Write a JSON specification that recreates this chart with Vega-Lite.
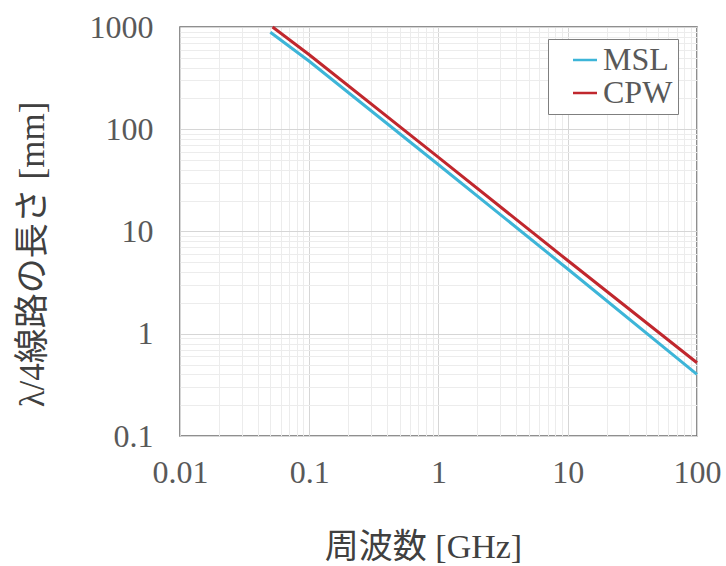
{
  "$schema": "https://vega.github.io/schema/vega-lite/v6.json",
  "width": 517,
  "height": 409,
  "autosize": "none",
  "padding": {"left": 180, "top": 27, "right": 29, "bottom": 130},
  "background": "white",
  "config": {
    "view": {"stroke": "#6b6b6b", "strokeWidth": 1.5},
    "font": "Liberation Serif"
  },
  "data": {
    "values": [
      {"freq": 0.05, "length": 890, "line": "MSL"},
      {"freq": 0.1, "length": 462, "line": "MSL"},
      {"freq": 1, "length": 45, "line": "MSL"},
      {"freq": 10, "length": 4.3, "line": "MSL"},
      {"freq": 100, "length": 0.4, "line": "MSL"},
      {"freq": 0.052, "length": 1000, "line": "CPW"},
      {"freq": 0.1, "length": 535, "line": "CPW"},
      {"freq": 1, "length": 53, "line": "CPW"},
      {"freq": 10, "length": 5.2, "line": "CPW"},
      {"freq": 100, "length": 0.52, "line": "CPW"}
    ]
  },
  "resolve": {"axis": {"x": "independent", "y": "independent"}},
  "layer": [
    {
      "mark": {"type": "line", "opacity": 0},
      "encoding": {
        "x": {
          "field": "freq", "type": "quantitative",
          "scale": {"type": "log", "domain": [0.01, 100], "nice": false},
          "axis": {
            "orient": "top", "values": [0.02,0.03,0.04,0.05,0.06,0.07,0.08,0.09,0.2,0.3,0.4,0.5,0.6,0.7,0.8,0.9,2,3,4,5,6,7,8,9,20,30,40,50,60,70,80,90],
            "labels": false, "ticks": false, "domain": false, "title": null,
            "grid": true, "gridColor": "#ececec", "gridWidth": 1
          }
        },
        "y": {
          "field": "length", "type": "quantitative",
          "scale": {"type": "log", "domain": [0.1, 1000], "nice": false},
          "axis": {
            "orient": "right", "values": [0.2,0.3,0.4,0.5,0.6,0.7,0.8,0.9,2,3,4,5,6,7,8,9,20,30,40,50,60,70,80,90,200,300,400,500,600,700,800,900],
            "labels": false, "ticks": false, "domain": false, "title": null,
            "grid": true, "gridColor": "#ececec", "gridWidth": 1
          }
        },
        "detail": {"field": "line"}
      }
    },
    {
      "mark": {"type": "line", "strokeWidth": 3},
      "encoding": {
        "x": {
          "field": "freq", "type": "quantitative",
          "scale": {"type": "log", "domain": [0.01, 100], "nice": false},
          "axis": {
            "orient": "bottom", "values": [0.01, 0.1, 1, 10, 100], "format": "~g",
            "ticks": false, "domain": false,
            "grid": true, "gridColor": "#d6d6d6", "gridWidth": 1,
            "labelFont": "Liberation Serif", "labelFontSize": 32, "labelColor": "#595959",
            "labelPadding": 21, "labelFlush": false,
            "title": "周波数 [GHz]",
            "titleFont": "Liberation Serif, Noto Sans CJK JP", "titleFontSize": 34, "titleFontWeight": "normal",
            "titleColor": "#404040",
            "titleX": 243, "titleY": 121, "titleAlign": "center", "titleBaseline": "alphabetic"
          }
        },
        "y": {
          "field": "length", "type": "quantitative",
          "scale": {"type": "log", "domain": [0.1, 1000], "nice": false},
          "axis": {
            "orient": "left", "values": [0.1, 1, 10, 100, 1000], "format": "~g",
            "ticks": false, "domain": false,
            "grid": true, "gridColor": "#d6d6d6", "gridWidth": 1,
            "labelFont": "Liberation Serif", "labelFontSize": 32, "labelColor": "#595959",
            "labelPadding": 27, "labelFlush": false,
            "title": "λ/4線路の長さ [mm]",
            "titleFont": "Liberation Serif, Noto Sans CJK JP", "titleFontSize": 35, "titleFontWeight": "normal",
            "titleColor": "#404040",
            "titleX": -148, "titleY": 227, "titleAngle": 270, "titleAlign": "center", "titleBaseline": "middle"
          }
        },
        "color": {
          "field": "line", "type": "nominal",
          "scale": {"domain": ["MSL", "CPW"], "range": ["#3db5d8", "#c0272d"]},
          "legend": {
            "title": null, "orient": "none", "legendX": 368, "legendY": 12,
            "symbolType": "stroke", "symbolSize": 576, "symbolStrokeWidth": 2.5,
            "symbolOffset": 16, "labelOffset": 2,
            "labelExpr": "datum.label + '\u00a0\u00a0\u00a0'",
            "labelFont": "Liberation Serif", "labelFontSize": 32, "labelColor": "#595959",
            "strokeColor": "#7f7f7f", "fillColor": "white", "padding": 5, "rowPadding": 1
          }
        }
      }
    }
  ]
}
